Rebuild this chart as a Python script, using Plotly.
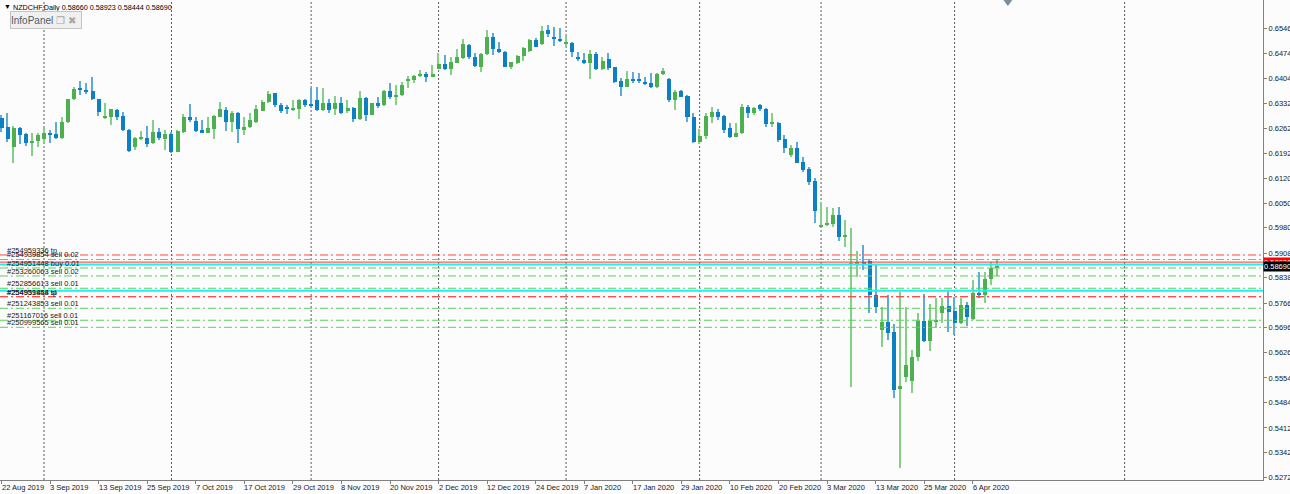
import pandas as pd
import plotly.graph_objects as go

# ---------------- data ----------------
open_ = [0.62906, 0.62650, 0.62102, 0.62622, 0.62461, 0.62197, 0.62253, 0.62329, 0.62499, 0.62461,
         0.62338, 0.62802, 0.63445, 0.63757, 0.63710, 0.63691, 0.63455, 0.62915, 0.62953, 0.63142,
         0.62972, 0.62575, 0.62083, 0.62319, 0.62357, 0.62197, 0.62527, 0.62329, 0.62461, 0.61960,
         0.62518, 0.62934, 0.62840, 0.62575, 0.62499, 0.62594, 0.62953, 0.63142, 0.62811, 0.63067,
         0.62594, 0.62650, 0.62802, 0.63123, 0.63379, 0.63615, 0.63294, 0.63218, 0.63142, 0.63161,
         0.63426, 0.63303, 0.63426, 0.63142, 0.63350, 0.63161, 0.63331, 0.63123, 0.63190, 0.62877,
         0.63473, 0.63010, 0.63331, 0.63284, 0.63691, 0.63502, 0.63568, 0.63975, 0.63994, 0.64107,
         0.64164, 0.64088, 0.64315, 0.64448, 0.64296, 0.64485, 0.64608, 0.64977, 0.64656, 0.64353,
         0.64722, 0.65204, 0.64864, 0.64798, 0.64372, 0.64485, 0.64675, 0.64826, 0.65129, 0.65015,
         0.65412, 0.65223, 0.65147, 0.65015, 0.65053, 0.64637, 0.64561, 0.64466, 0.64731, 0.64296,
         0.64589, 0.64353, 0.63975, 0.63804, 0.64013, 0.64013, 0.63946, 0.63899, 0.63804, 0.64154,
         0.64013, 0.63426, 0.63681, 0.63540, 0.62953, 0.62243, 0.62404, 0.62953, 0.63085, 0.62972,
         0.62622, 0.62385, 0.62480, 0.63236, 0.63047, 0.63284, 0.63170, 0.62745, 0.62782, 0.62310,
         0.61865, 0.62054, 0.61666, 0.61458, 0.61137, 0.59813, 0.59869, 0.59907, 0.60163, 0.59548,
         0.58734, 0.58791, 0.58839, 0.58857, 0.57893, 0.56889, 0.57125, 0.56842, 0.55215, 0.55575,
         0.55462, 0.56124, 0.57164, 0.56597, 0.57136, 0.57391, 0.57581, 0.57439, 0.57108, 0.57599,
         0.57202, 0.57959, 0.57893, 0.58337, 0.58660]
high = [0.63000, 0.63048, 0.62688, 0.62650, 0.62499, 0.62480, 0.62499, 0.62650, 0.62575, 0.62811,
        0.62953, 0.63464, 0.63804, 0.63965, 0.63918, 0.64069, 0.63464, 0.63331, 0.63180, 0.63161,
        0.63095, 0.62594, 0.62386, 0.62556, 0.62688, 0.62859, 0.62622, 0.62575, 0.62527, 0.62575,
        0.63029, 0.63303, 0.62953, 0.62859, 0.62953, 0.63000, 0.63379, 0.63218, 0.63123, 0.63095,
        0.62934, 0.63048, 0.63284, 0.63426, 0.63672, 0.63634, 0.63350, 0.63284, 0.63426, 0.63445,
        0.63445, 0.63757, 0.63785, 0.63757, 0.63445, 0.63540, 0.63521, 0.63426, 0.63218, 0.63691,
        0.63521, 0.63350, 0.63502, 0.63710, 0.63899, 0.63852, 0.63946, 0.64107, 0.64135, 0.64277,
        0.64230, 0.64419, 0.64750, 0.64703, 0.64656, 0.64864, 0.65147, 0.65015, 0.64769, 0.64750,
        0.65412, 0.65337, 0.65081, 0.64816, 0.64514, 0.64703, 0.64939, 0.65147, 0.65176, 0.65526,
        0.65545, 0.65488, 0.65460, 0.65270, 0.65081, 0.64798, 0.64750, 0.64845, 0.64798, 0.64637,
        0.64750, 0.64372, 0.64041, 0.64258, 0.64230, 0.64183, 0.64069, 0.64202, 0.64202, 0.64325,
        0.64041, 0.63710, 0.63710, 0.63568, 0.63047, 0.62593, 0.63047, 0.63236, 0.63161, 0.63000,
        0.62782, 0.62764, 0.63312, 0.63284, 0.63217, 0.63312, 0.63189, 0.63066, 0.62811, 0.62432,
        0.62149, 0.62243, 0.61799, 0.61534, 0.61203, 0.60541, 0.60399, 0.60352, 0.60399, 0.60021,
        0.59784, 0.59151, 0.59311, 0.58886, 0.58744, 0.57551, 0.57893, 0.57059, 0.57987, 0.57543,
        0.56332, 0.57391, 0.57921, 0.57637, 0.57798, 0.57798, 0.58016, 0.57845, 0.57798, 0.57704,
        0.58318, 0.58555, 0.58555, 0.58839, 0.58923]
low = [0.62527, 0.62244, 0.61629, 0.62178, 0.62121, 0.61837, 0.62102, 0.62197, 0.62197, 0.62310,
       0.62310, 0.62783, 0.63426, 0.63568, 0.63596, 0.63426, 0.62982, 0.62877, 0.62717, 0.62859,
       0.62556, 0.61960, 0.62007, 0.62291, 0.62102, 0.62178, 0.62291, 0.62007, 0.61913, 0.61941,
       0.62499, 0.62811, 0.62527, 0.62480, 0.62480, 0.62310, 0.62940, 0.62556, 0.62527, 0.62216,
       0.62433, 0.62622, 0.62764, 0.63105, 0.63350, 0.63218, 0.63048, 0.63029, 0.63123, 0.62877,
       0.63218, 0.63218, 0.63123, 0.63123, 0.63048, 0.63000, 0.63029, 0.63067, 0.62811, 0.62859,
       0.62840, 0.62991, 0.63190, 0.63256, 0.63464, 0.63284, 0.63540, 0.63757, 0.63899, 0.64088,
       0.63946, 0.64069, 0.64296, 0.64277, 0.64135, 0.64466, 0.64580, 0.64580, 0.64353, 0.64230,
       0.64703, 0.64703, 0.64769, 0.64353, 0.64296, 0.64448, 0.64542, 0.64788, 0.64920, 0.64987,
       0.65223, 0.64958, 0.65081, 0.64958, 0.64656, 0.64542, 0.64448, 0.64013, 0.64277, 0.64277,
       0.64277, 0.63918, 0.63540, 0.63785, 0.63918, 0.63899, 0.63852, 0.63757, 0.63757, 0.64135,
       0.63379, 0.63142, 0.63502, 0.62800, 0.62196, 0.62177, 0.62310, 0.62764, 0.62858, 0.62480,
       0.62338, 0.62366, 0.62461, 0.62905, 0.63000, 0.63123, 0.62669, 0.62669, 0.62243, 0.61912,
       0.61818, 0.61629, 0.61392, 0.61014, 0.59945, 0.59784, 0.59850, 0.59832, 0.59434, 0.59264,
       0.55282, 0.58413, 0.58602, 0.57373, 0.57373, 0.56416, 0.56624, 0.54978, 0.52975, 0.55434,
       0.55122, 0.56029, 0.56569, 0.56313, 0.56947, 0.57108, 0.56842, 0.56758, 0.57060, 0.57013,
       0.57183, 0.57798, 0.57675, 0.58176, 0.58444]
close = [0.62622, 0.62310, 0.62622, 0.62433, 0.62197, 0.62272, 0.62424, 0.62499, 0.62443, 0.62338,
         0.62811, 0.63445, 0.63738, 0.63700, 0.63672, 0.63445, 0.63095, 0.62972, 0.63161, 0.62953,
         0.62575, 0.61979, 0.62338, 0.62357, 0.62187, 0.62527, 0.62338, 0.62461, 0.61951, 0.62547,
         0.62934, 0.62859, 0.62556, 0.62499, 0.62622, 0.62972, 0.63161, 0.62811, 0.63067, 0.62594,
         0.62650, 0.62859, 0.63161, 0.63379, 0.63596, 0.63284, 0.63114, 0.63161, 0.63180, 0.63426,
         0.63284, 0.63265, 0.63142, 0.63350, 0.63142, 0.63331, 0.63048, 0.63190, 0.62877, 0.63473,
         0.63000, 0.63331, 0.63265, 0.63691, 0.63502, 0.63568, 0.63852, 0.64013, 0.64107, 0.64164,
         0.64088, 0.64164, 0.64448, 0.64296, 0.64514, 0.64637, 0.65015, 0.64637, 0.64391, 0.64722,
         0.65204, 0.64864, 0.64788, 0.64372, 0.64504, 0.64675, 0.64892, 0.65129, 0.64939, 0.65393,
         0.65299, 0.65147, 0.65100, 0.65072, 0.64798, 0.64580, 0.64466, 0.64731, 0.64296, 0.64542,
         0.64344, 0.63946, 0.63804, 0.64013, 0.63956, 0.63956, 0.63880, 0.63804, 0.64164, 0.64258,
         0.63426, 0.63663, 0.63521, 0.62953, 0.62243, 0.62404, 0.62972, 0.63085, 0.62953, 0.62574,
         0.62385, 0.62480, 0.63236, 0.63047, 0.63189, 0.63161, 0.62745, 0.62782, 0.62291, 0.62054,
         0.62054, 0.61648, 0.61439, 0.61108, 0.60285, 0.59879, 0.59926, 0.60163, 0.59548, 0.59576,
         0.58810, 0.58839, 0.58791, 0.57893, 0.57562, 0.57125, 0.56813, 0.55205, 0.55309, 0.55907,
         0.56143, 0.57164, 0.56597, 0.57164, 0.57164, 0.57581, 0.57420, 0.57108, 0.57599, 0.57259,
         0.57940, 0.57893, 0.58337, 0.58649, 0.58690]

holidays = ["2019-12-25", "2020-01-01"]
dates = [d for d in pd.bdate_range("2019-08-22", "2020-04-10")
         if d.strftime("%Y-%m-%d") not in holidays]

tick_labels = ["22 Aug 2019", "3 Sep 2019", "13 Sep 2019", "25 Sep 2019", "7 Oct 2019",
               "17 Oct 2019", "29 Oct 2019", "8 Nov 2019", "20 Nov 2019", "2 Dec 2019",
               "12 Dec 2019", "24 Dec 2019", "7 Jan 2020", "17 Jan 2020", "29 Jan 2020",
               "10 Feb 2020", "20 Feb 2020", "3 Mar 2020", "13 Mar 2020", "25 Mar 2020",
               "6 Apr 2020"]

price_ticks = [0.65460, 0.64740, 0.64040, 0.63320, 0.62620, 0.61920, 0.61200, 0.60500,
               0.59800, 0.59080, 0.58380, 0.57660, 0.56960, 0.56260, 0.55540, 0.54840,
               0.54120, 0.53420, 0.52720]

order_labels = ["#254959336 tp", "#254939854 sell 0.02", "#254951448 buy 0.01",
                "#253260063 sell 0.02", "#252856613 sell 0.01", "#254939854 sl",
                "#254951448 tp", "#251243853 sell 0.01", "#251167016 sell 0.01",
                "#250999565 sell 0.01"]
order_prices = [0.59028, 0.58900, 0.58659, 0.58432, 0.58083, 0.57844, 0.57844,
                0.57515, 0.57175, 0.56976]
level_prices = [0.58758, 0.58015]   # cyan horizontal lines
ask_price = 0.58826

# ---------------- figure ----------------
n = len(dates)
idx = list(range(n))
date_text = [f"{d.day} {d.strftime('%b %Y')}" for d in dates]
tick_idx = [date_text.index(t) for t in tick_labels]

BULL, BEAR = "#4cb050", "#0b80c4"
BULL_W, BEAR_W = "#86cf86", "#5fa9dd"
up = [c >= o for o, c in zip(open_, close)]

fig = go.Figure()
fig.add_trace(go.Bar(
    x=idx, y=[h - l for h, l in zip(high, low)], base=low, width=0.22,
    marker=dict(color=[BULL_W if u else BEAR_W for u in up], line_width=0),
    hoverinfo="skip"))
fig.add_trace(go.Bar(
    x=idx, y=[max(abs(c - o), 0.00004) for o, c in zip(open_, close)],
    base=[min(o, c) for o, c in zip(open_, close)], width=0.66,
    marker=dict(color=[BULL if u else BEAR for u in up], line_width=0),
    hoverinfo="skip"))

FONT = "Liberation Sans, Arial, sans-serif"
FS = 7.5
shapes = []
# monthly period separators
seps = [i for i in range(1, n) if dates[i].month != dates[i - 1].month]
seps.append(n - 1 + (pd.Timestamp("2020-05-01") - dates[-1]).days)
for s in seps:
    shapes.append(dict(type="line", xref="x", yref="paper", x0=s, x1=s, y0=0, y1=1,
                       line=dict(color="#5a5a5a", width=1, dash="2px,2px"), layer="below"))
# order lines
for lab, p in zip(order_labels, order_prices):
    red = lab.endswith("tp") or lab.endswith("sl")
    shapes.append(dict(type="line", xref="paper", yref="y", x0=0, x1=1, y0=p, y1=p,
                       line=dict(color="#ff4545" if red else "#5cd05c", width=1,
                                 dash="8px,3px,2px,3px"), layer="above"))
for p in level_prices:
    shapes.append(dict(type="line", xref="paper", yref="y", x0=0, x1=1, y0=p, y1=p,
                       line=dict(color="#1ef2f2", width=2), layer="above"))
shapes.append(dict(type="line", xref="paper", yref="y", x0=0, x1=1, y0=ask_price, y1=ask_price,
                   line=dict(color="#ff3333", width=1), layer="above"))
# chart-shift marker
shapes.append(dict(type="path", xref="paper", yref="paper",
                   path="M 0.7945 1 L 0.8015 1 L 0.798 0.9875 Z",
                   fillcolor="#7d8c9c", line=dict(width=0)))

ann = []
W = 1263.0
ann.append(dict(xref="paper", yref="paper", x=2 / W, y=1, xanchor="left", yanchor="top",
                yshift=-1, showarrow=False, text="▼", font=dict(family=FONT, size=7, color="#000")))
ann.append(dict(xref="paper", yref="paper", x=11 / W, y=1, xanchor="left", yanchor="top",
                yshift=-1, showarrow=False,
                text=f"NZDCHF,Daily {open_[-1]:.5f} {high[-1]:.5f} {low[-1]:.5f} {close[-1]:.5f}",
                font=dict(family=FONT, size=7.2, color="#000")))
ann.append(dict(xref="paper", yref="paper", x=10 / W, y=1 - 11 / 480, xanchor="left",
                yanchor="top", showarrow=False, width=70, height=16, align="left",
                bgcolor="#f0f0f0", bordercolor="#c4c4c4", borderwidth=1, borderpad=0,
                text="InfoPanel <span style='color:#a8a8a8'>❐ ✖</span>",
                font=dict(family=FONT, size=10, color="#505a66")))
for lab, p in zip(order_labels, order_prices):
    ann.append(dict(xref="paper", yref="y", x=5 / W, y=p, xanchor="left", yanchor="bottom",
                    yshift=-2, showarrow=False, text=lab,
                    font=dict(family=FONT, size=FS, color="#1a1a1a")))
for t, i in zip(tick_labels, tick_idx):
    ann.append(dict(xref="x", yref="paper", x=i, y=0, xanchor="left", yanchor="top",
                    yshift=-1, xshift=-2, showarrow=False, text=t,
                    font=dict(family=FONT, size=FS, color="#202020")))
ann.append(dict(xref="paper", yref="y", x=1, y=ask_price, xanchor="left", yanchor="middle",
                showarrow=False, text=f"{ask_price:.5f}", bgcolor="#ff0000", borderpad=0,
                font=dict(family=FONT, size=FS, color="#ffffff")))
ann.append(dict(xref="paper", yref="y", x=1, y=close[-1], xanchor="left", yanchor="middle",
                showarrow=False, text=f"{close[-1]:.5f}", bgcolor="#000000", borderpad=0,
                font=dict(family=FONT, size=FS, color="#ffffff")))

fig.update_layout(
    width=1290, height=494, margin=dict(l=0, r=27, t=0, b=14),
    paper_bgcolor="#fcfcfc", plot_bgcolor="#fcfcfc",
    barmode="overlay", bargap=0, showlegend=False,
    shapes=shapes, annotations=ann,
    xaxis=dict(range=[-0.247, 207.8], showgrid=False, zeroline=False, showline=True,
               mirror=True, linecolor="#808080", linewidth=1, tickvals=tick_idx,
               ticks="outside", ticklen=3, tickcolor="#808080", showticklabels=False,
               automargin=False, fixedrange=True),
    yaxis=dict(side="right", range=[0.52643, 0.66263], showgrid=False, zeroline=False,
               showline=True, linecolor="#808080", linewidth=1,
               tickvals=price_ticks, ticktext=[f"{v:.5f}" for v in price_ticks],
               ticks="outside", ticklen=3, tickcolor="#808080",
               tickfont=dict(family=FONT, size=FS, color="#202020"),
               automargin=False, fixedrange=True),
)
fig.write_html("out.html")
